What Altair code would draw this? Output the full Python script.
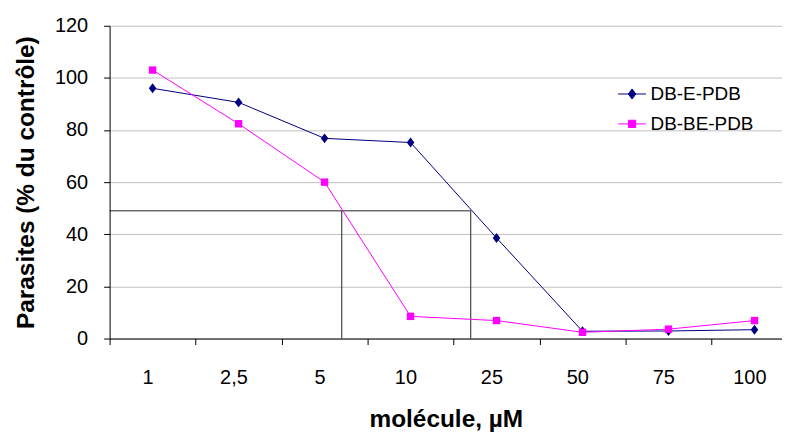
import json
import altair as alt
import pandas as pd

# ---------------- data ----------------
concentrations = ["1", "2,5", "5", "10", "25", "50", "75", "100"]
db_e_pdb = [96.0, 90.6, 76.8, 75.2, 38.6, 2.8, 2.9, 3.4]
db_be_pdb = [103.0, 82.4, 60.0, 8.5, 6.9, 2.4, 3.6, 6.9]
series_names = ["DB-E-PDB", "DB-BE-PDB"]
series_colors = ["#000080", "#FF00FF"]
series_shapes = ["M0,-1.25L0.95,0L0,1.25L-0.95,0Z", "square"]
series_sizes = [64, 55]
ic50_threshold = 49
ic50_positions = [2.2, 3.7]  # along the category axis (category index units)
y_ticks = [0, 20, 40, 60, 80, 100, 120]

rows = []
for name, vals in zip(series_names, [db_e_pdb, db_be_pdb]):
    for i, (c, v) in enumerate(zip(concentrations, vals)):
        rows.append({"pos": i, "conc": c, "series": name, "value": v})
df = pd.DataFrame(rows)

FONT = "Liberation Sans"
x_min, x_max = -0.5, 7.32

hline = pd.DataFrame([{"x": x_min, "x2": max(ic50_positions), "y": ic50_threshold}])
vlines = pd.DataFrame([{"x": p, "y": 0, "y2": ic50_threshold} for p in ic50_positions])

x_scale = alt.Scale(domain=[x_min, x_max], nice=False, zero=False)
y_scale = alt.Scale(domain=[0, 120], nice=False)

label_expr = json.dumps(concentrations) + "[round(datum.value + 0.5)]"

x_axis = alt.Axis(
    title="molécule, µM",
    values=[i - 0.5 for i in range(len(concentrations))],
    labelExpr=label_expr,
    labelOffset=38,
    labelFlush=False,
    labelOverlap=False,
    labelFont=FONT,
    labelFontSize=20,
    labelColor="black",
    labelPadding=23,
    tickSize=6,
    tickColor="black",
    domainColor="black",
    grid=False,
    titleFont=FONT,
    titleFontSize=24.5,
    titleFontWeight="bold",
    titleColor="black",
    titlePadding=20,
)

y_axis = alt.Axis(
    title="Parasites (% du contrôle)",
    values=y_ticks,
    labelFont=FONT,
    labelFontSize=20,
    labelColor="black",
    labelPadding=16,
    tickSize=6,
    tickColor="black",
    domainColor="black",
    gridColor="#c0c0c0",
    titleFont=FONT,
    titleFontSize=24.5,
    titleFontWeight="bold",
    titleColor="black",
    titlePadding=16,
)

# legend symbols: a short line with the marker on it
path_a = "M-1,0H1M0,-0.36L0.27,0L0,0.36L-0.27,0Z"
path_b = "M-1,0H1M-0.26,-0.26H0.26V0.26H-0.26Z"

color_scale = alt.Scale(domain=series_names, range=series_colors)
legend_shape_scale = alt.Scale(domain=series_names, range=[path_a, path_b])

legend = alt.Legend(
    title=None,
    orient="none",
    legendX=510,
    legendY=54,
    padding=0,
    labelFont=FONT,
    labelFontSize=19,
    labelColor="black",
    labelOffset=4,
    symbolSize=784,
    symbolOpacity=1,
    symbolStrokeWidth=1,
    rowPadding=5,
)

X = alt.X("pos:Q", scale=x_scale, axis=x_axis)
Y = alt.Y("value:Q", scale=y_scale, axis=y_axis)

layers = []
layers.append(
    alt.Chart(hline).mark_rule(color="#222222", strokeWidth=1).encode(
        x=alt.X("x:Q", scale=x_scale, axis=x_axis),
        x2="x2:Q",
        y=alt.Y("y:Q", scale=y_scale, axis=y_axis),
    )
)
layers.append(
    alt.Chart(vlines).mark_rule(color="#222222", strokeWidth=1).encode(
        x=alt.X("x:Q", scale=x_scale),
        y=alt.Y("y:Q", scale=y_scale),
        y2="y2:Q",
    )
)

for name, col, shp, sz in zip(series_names, series_colors, series_shapes, series_sizes):
    sub = alt.Chart(df).transform_filter(alt.datum.series == name)
    layers.append(sub.mark_line(strokeWidth=1, color=col).encode(x=X, y=Y))
    layers.append(
        sub.mark_point(filled=True, opacity=1, size=sz, shape=shp, color=col).encode(x=X, y=Y)
    )

# invisible layer that only carries the legend
layers.append(
    alt.Chart(df).mark_point(filled=True, opacity=0).encode(
        x=X,
        y=Y,
        fill=alt.Fill("series:N", scale=color_scale, legend=legend),
        stroke=alt.Stroke("series:N", scale=color_scale, legend=legend),
        shape=alt.Shape("series:N", scale=legend_shape_scale, legend=legend),
    )
)

chart = (
    alt.layer(*layers)
    .properties(
        width=675,
        height=314,
        padding={"left": 5, "top": 7, "right": 0, "bottom": 0},
        background="white",
    )
    .configure_view(stroke=None)
)

chart.save("out.html", embed_options={"renderer": "svg", "actions": False})
